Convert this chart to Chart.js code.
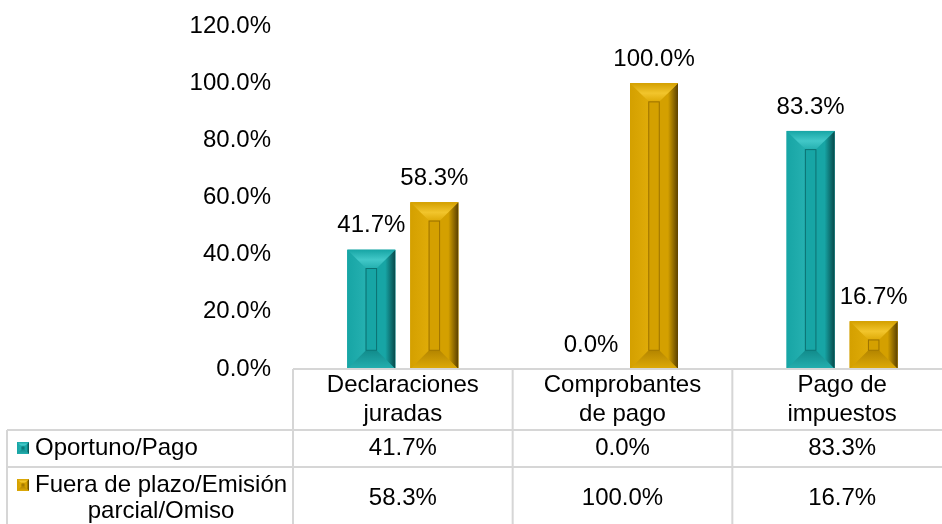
<!DOCTYPE html>
<html>
<head>
<meta charset="utf-8">
<script src="https://cdn.jsdelivr.net/npm/chart.js@4.4.1/dist/chart.umd.min.js"></script>
<style>
  html, body { margin: 0; padding: 0; overflow: hidden; background: #fff; }
  canvas { display: block; }
</style>
</head>
<body>
<canvas id="grafico" width="962" height="524"></canvas>
<script>
// Datos del gráfico
const categorias = [['Declaraciones', 'juradas'], ['Comprobantes', 'de pago'], ['Pago de', 'impuestos']];
const oportuno = [41.7, 0.0, 83.3];
const fueraPlazo = [58.3, 100.0, 16.7];
const filasTabla = [['Oportuno/Pago'], ['Fuera de plazo/Emisión', 'parcial/Omiso']];
const ticksY = [0, 20, 40, 60, 80, 100, 120];

const FUENTE = '"Liberation Sans", Arial, sans-serif';
const TAM = 24;

// Paletas para el efecto biselado
const paletas = [
    { cara: '#17a5a5', claro: '#42c8c8', borde: '#25b0b0', oscuro: '#07494a', abajo: '#128c8c', linea: '#0c7272' },
    { cara: '#d4a000', claro: '#f2c52c', borde: '#dfab08', oscuro: '#5a4000', abajo: '#b58600', linea: '#9c7200' }
];

function poligono(ctx, pts, fill) {
    ctx.beginPath();
    ctx.moveTo(pts[0][0], pts[0][1]);
    for (let i = 1; i < pts.length; i++) ctx.lineTo(pts[i][0], pts[i][1]);
    ctx.closePath();
    ctx.fillStyle = fill;
    ctx.fill();
}

function barraBiselada(ctx, l, t, r, b, p, bisel) {
    const w = r - l, h = b - t;
    if (h < 1 || w < 1) return;
    const e = Math.min(bisel, w * 0.38, h * 0.4);
    ctx.save();
    ctx.fillStyle = p.cara;
    ctx.fillRect(l, t, w, h);

    // lado izquierdo
    let g = ctx.createLinearGradient(l, 0, l + e, 0);
    g.addColorStop(0, p.cara);
    g.addColorStop(1, p.borde);
    poligono(ctx, [[l, t], [l + e, t + e], [l + e, b - e], [l, b]], g);

    // lado derecho (sombra)
    g = ctx.createLinearGradient(r - e, 0, r, 0);
    g.addColorStop(0, p.cara);
    g.addColorStop(0.45, p.cara);
    g.addColorStop(1, p.oscuro);
    poligono(ctx, [[r, t], [r - e, t + e], [r - e, b - e], [r, b]], g);

    // parte superior (luz)
    g = ctx.createLinearGradient(0, t, 0, t + e);
    g.addColorStop(0, p.cara);
    g.addColorStop(0.55, p.claro);
    g.addColorStop(1, p.borde);
    poligono(ctx, [[l, t], [r, t], [r - e, t + e], [l + e, t + e]], g);

    // parte inferior
    g = ctx.createLinearGradient(0, b - e, 0, b);
    g.addColorStop(0, p.abajo);
    g.addColorStop(1, p.borde);
    poligono(ctx, [[l, b], [r, b], [r - e, b - e], [l + e, b - e]], g);

    // cara interior
    ctx.fillStyle = p.cara;
    ctx.fillRect(l + e, t + e, w - 2 * e, h - 2 * e);
    ctx.strokeStyle = p.linea;
    ctx.lineWidth = 1;
    ctx.strokeRect(l + e + 0.5, t + e + 0.5, w - 2 * e - 1, h - 2 * e - 1);
    ctx.restore();
}

// Biselado de las barras y etiquetas de valor
const pluginBarras = {
    id: 'barras',
    afterDatasetsDraw(chart) {
        const ctx = chart.ctx;
        chart.data.datasets.forEach((ds, i) => {
            chart.getDatasetMeta(i).data.forEach((el, j) => {
                const l = el.x - el.width / 2, r = el.x + el.width / 2;
                barraBiselada(ctx, l, el.y, r, el.base, paletas[i], 19);
                ctx.save();
                ctx.fillStyle = '#000';
                ctx.font = TAM + 'px ' + FUENTE;
                ctx.textAlign = 'center';
                ctx.textBaseline = 'middle';
                ctx.fillText(ds.data[j].toFixed(1) + '%', el.x, el.y - 24);
                ctx.restore();
            });
        });
    }
};

// Tabla de datos bajo el eje
const pluginTabla = {
    id: 'tabla',
    afterDraw(chart) {
        const ctx = chart.ctx;
        const area = chart.chartArea;
        const xs = chart.scales.x;
        const ancho = (area.right - area.left) / categorias.length;
        const H = chart.height;
        const fila1 = area.bottom + 61, fila2 = area.bottom + 98;
        ctx.save();
        ctx.strokeStyle = '#d6d6d6';
        ctx.lineWidth = 2;
        ctx.beginPath();
        ctx.moveTo(area.left, area.bottom);
        ctx.lineTo(chart.width, area.bottom);
        for (let i = 0; i <= categorias.length; i++) {
            const x = area.left + i * ancho;
            ctx.moveTo(x, area.bottom);
            ctx.lineTo(x, H);
        }
        ctx.moveTo(7, fila1); ctx.lineTo(chart.width, fila1);
        ctx.moveTo(7, fila2); ctx.lineTo(chart.width, fila2);
        ctx.moveTo(7, fila1); ctx.lineTo(7, H);
        ctx.stroke();

        ctx.fillStyle = '#000';
        ctx.font = TAM + 'px ' + FUENTE;
        ctx.textBaseline = 'middle';

        // encabezados de fila con su clave
        const centros = [fila1 + 18, fila2 + 18];
        filasTabla.forEach((lineas, i) => {
            const y0 = lineas.length > 1 ? fila2 + 18 : centros[i];
            barraBiselada(ctx, 17, y0 - 6, 29, y0 + 6, paletas[i], 5);
            ctx.fillStyle = '#000';
            ctx.textAlign = 'left';
            ctx.fillText(lineas[0], 35, y0);
            if (lineas.length > 1) {
                const w0 = ctx.measureText(lineas[0]).width;
                ctx.textAlign = 'center';
                ctx.fillText(lineas[1], 35 + w0 / 2, y0 + 26);
            }
        });

        // valores por categoría
        const series = [oportuno, fueraPlazo];
        ctx.textAlign = 'center';
        series.forEach((valores, i) => {
            const y = i === 0 ? centros[0] : fila2 + 31;
            valores.forEach((v, j) => {
                ctx.fillText(v.toFixed(1) + '%', xs.getPixelForValue(j), y);
            });
        });
        ctx.restore();
    }
};

new Chart(document.getElementById('grafico'), {
    type: 'bar',
    data: {
        labels: categorias,
        datasets: [
            { label: filasTabla[0].join(' '), data: oportuno, backgroundColor: paletas[0].cara, borderWidth: 0 },
            { label: filasTabla[1].join(' '), data: fueraPlazo, backgroundColor: paletas[1].cara, borderWidth: 0 }
        ]
    },
    options: {
        responsive: false,
        animation: false,
        categoryPercentage: 0.574,
        barPercentage: 0.76,
        layout: { padding: { top: 26, right: 10, left: 0, bottom: 0 } },
        scales: {
            x: {
                grid: { display: false, drawTicks: false },
                border: { display: false },
                ticks: {
                    color: '#000',
                    padding: 2,
                    maxRotation: 0,
                    autoSkip: false,
                    font: { family: FUENTE, size: TAM }
                },
                afterFit(s) { s.height = 155; }
            },
            y: {
                min: 0,
                max: 120,
                grid: { display: false, drawTicks: false },
                border: { display: false },
                afterBuildTicks(s) { s.ticks = ticksY.map(v => ({ value: v })); },
                ticks: {
                    color: '#000',
                    padding: 22,
                    font: { family: FUENTE, size: TAM },
                    callback: v => v.toFixed(1) + '%'
                },
                afterFit(s) {
                    s.width = 293;
                    s.paddingTop = 0;
                    s.paddingBottom = 0;
                }
            }
        },
        plugins: {
            legend: { display: false },
            tooltip: { enabled: false }
        }
    },
    plugins: [pluginBarras, pluginTabla]
});
</script>
</body>
</html>
